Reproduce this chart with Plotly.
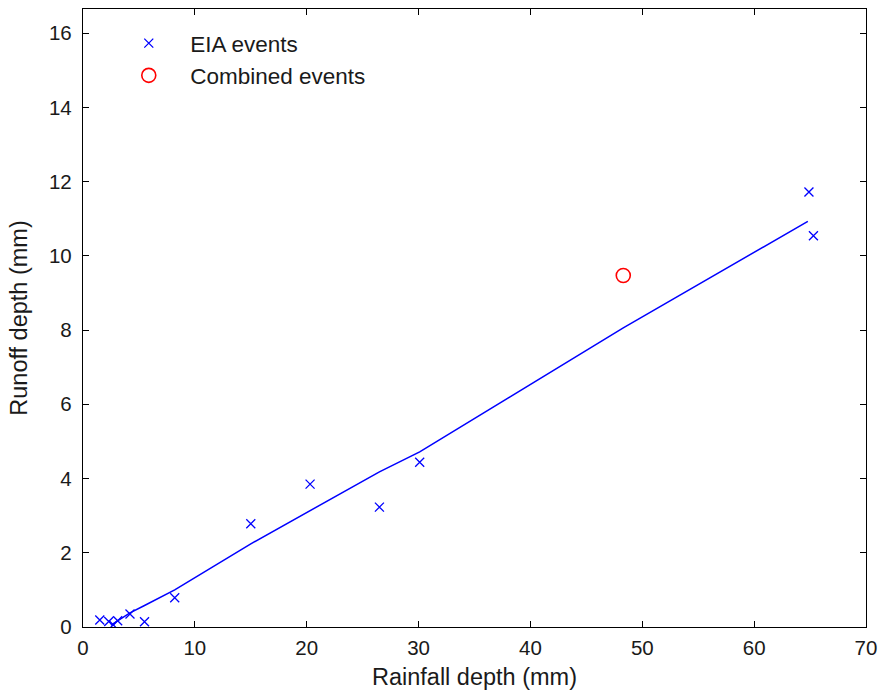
import plotly.graph_objects as go

# EIA events (rainfall depth, runoff depth)
eia_rain = [1.5, 2.3, 2.7, 3.1, 4.2, 5.5, 8.2, 15.0, 20.3, 26.5, 30.1, 64.9, 65.3]
eia_runoff = [0.19, 0.15, 0.06, 0.17, 0.35, 0.14, 0.79, 2.78, 3.85, 3.23, 4.44, 11.72, 10.54]

# Combined events
comb_rain = [48.3]
comb_runoff = [9.47]

# Fitted line
fit_rain = [2.5, 4.2, 5.5, 8.2, 15.0, 20.3, 26.5, 30.1, 48.3, 64.8]
fit_runoff = [0.05, 0.38, 0.58, 1.0, 2.24, 3.13, 4.18, 4.72, 8.06, 10.93]

x_ticks = [0, 10, 20, 30, 40, 50, 60, 70]
y_ticks = [0, 2, 4, 6, 8, 10, 12, 14, 16]

font_family = "Liberation Sans, Arial, sans-serif"
text_color = "#1a1a1a"

fig = go.Figure()
fig.add_trace(go.Scatter(
    x=fit_rain, y=fit_runoff, mode="lines",
    line=dict(color="rgb(0,0,255)", width=1.5),
    showlegend=False, hoverinfo="skip"))
fig.add_trace(go.Scatter(
    x=eia_rain, y=eia_runoff, mode="markers", name="EIA events",
    marker=dict(symbol="x-thin-open", size=9, color="rgb(0,0,255)",
                line=dict(color="rgb(0,0,255)", width=1.3))))
fig.add_trace(go.Scatter(
    x=comb_rain, y=comb_runoff, mode="markers", name="Combined events",
    marker=dict(symbol="circle-open", size=14, color="rgb(255,0,0)",
                line=dict(color="rgb(255,0,0)", width=1.6))))

axis_common = dict(
    showline=True, linecolor="black", linewidth=1.3, mirror="allticks",
    ticks="inside", ticklen=6, tickwidth=1.3, tickcolor="black",
    showgrid=False, zeroline=False, automargin=False,
    tickfont=dict(family=font_family, size=20.5, color=text_color),
)

fig.update_layout(
    width=882, height=698,
    paper_bgcolor="white", plot_bgcolor="white",
    margin=dict(l=83, r=16, t=9, b=71),
    font=dict(family=font_family, size=20.5, color=text_color),
    xaxis=dict(range=[0, 70], tickvals=x_ticks, ticktext=[str(v) for v in x_ticks],
               ticklabelstandoff=2,
               title=dict(text="Rainfall depth (mm)", standoff=10,
                          font=dict(family=font_family, size=23.5, color=text_color)),
               **axis_common),
    yaxis=dict(range=[0, 16.65], tickvals=y_ticks, ticktext=[str(v) for v in y_ticks],
               ticklabelstandoff=6,
               title=dict(text="Runoff depth (mm)", standoff=14,
                          font=dict(family=font_family, size=23.5, color=text_color)),
               **axis_common),
    legend=dict(x=0.031, y=0.979, xanchor="left", yanchor="top",
                bgcolor="rgba(0,0,0,0)", borderwidth=0, itemwidth=73,
                font=dict(family=font_family, size=22.5, color=text_color),
                tracegroupgap=0),
)

fig.write_html("out.html", config={"displayModeBar": False},
               post_script="document.body.style.margin='0';")
